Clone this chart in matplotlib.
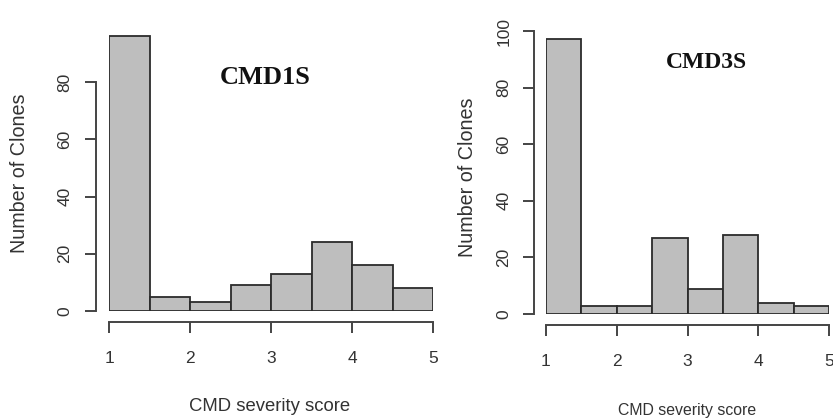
import numpy as np
import matplotlib
matplotlib.use("Agg")
import matplotlib.pyplot as plt

# histogram bins (CMD severity score) and counts
bin_edges = [1.0, 1.5, 2.0, 2.5, 3.0, 3.5, 4.0, 4.5, 5.0]
cmd1s_counts = [96, 5, 3, 9, 13, 24, 16, 8]
cmd3s_counts = [97, 3, 3, 27, 9, 28, 4, 3]
x_ticks = [1, 2, 3, 4, 5]
cmd1s_yticks = [0, 20, 40, 60, 80]
cmd3s_yticks = [0, 20, 40, 60, 80, 100]

fill = "#bebebe"
edge = "#2b2b2b"
ink = "#333333"

plt.rcParams["font.family"] = ["Liberation Sans", "DejaVu Sans"]

fig = plt.figure(figsize=(8.33, 4.19), dpi=100)

W, H = 833.0, 419.0


def r_hist(ax, counts, yticks, title, tsize, tpos, xlab_pos, ylab_pos,
           xlab_size, yoff, xoff, ypad):
    left = np.array(bin_edges[:-1])
    widths = np.diff(bin_edges)
    ax.bar(left, counts, width=widths, align="edge", color=fill,
           edgecolor=edge, linewidth=1.3)
    ax.set_xlim(1, 5)
    ax.set_ylim(0, 100)
    for s in ["top", "right"]:
        ax.spines[s].set_visible(False)
    ax.spines["left"].set_position(("outward", yoff))
    ax.spines["bottom"].set_position(("outward", xoff))
    ax.spines["left"].set_bounds(yticks[0], yticks[-1])
    ax.spines["bottom"].set_bounds(x_ticks[0], x_ticks[-1])
    for s in ["left", "bottom"]:
        ax.spines[s].set_color("#444444")
        ax.spines[s].set_linewidth(1.4)
    ax.set_xticks(x_ticks)
    ax.set_yticks(yticks)
    ax.tick_params(axis="both", colors="#444444", width=1.4, length=8,
                   labelcolor=ink, labelsize=12.5)
    ax.tick_params(axis="x", pad=13)
    ax.tick_params(axis="y", pad=ypad)
    for lab in ax.get_yticklabels():
        lab.set_rotation(90)
        lab.set_va("center")
    fig.text(tpos[0] / W, 1 - tpos[1] / H, title, family="Liberation Serif",
             fontweight="bold", fontsize=tsize, color="#111111",
             ha="center", va="center")
    fig.text(xlab_pos[0] / W, 1 - xlab_pos[1] / H, "CMD severity score",
             fontsize=xlab_size, color=ink, ha="center", va="center")
    fig.text(ylab_pos[0] / W, 1 - ylab_pos[1] / H, "Number of Clones",
             fontsize=14.2, color=ink, ha="center", va="center", rotation=90)


# left panel: x=1 at 109px, x=5 at 433px, y=0 at 311px, y=100 at 25px
ax1 = fig.add_axes([109 / W, (H - 311) / H, 324 / W, 286 / H])
r_hist(ax1, cmd1s_counts, cmd1s_yticks, "CMD1S", 19, (265, 78), (270, 406),
       (20, 173), 13.3, 9.5, 8, 9)

# right panel: x=1 at 546px, x=5 at 829px, y=0 at 314px, y=100 at 31px
ax2 = fig.add_axes([546 / W, (H - 314) / H, 283 / W, 283 / H])
r_hist(ax2, cmd3s_counts, cmd3s_yticks, "CMD3S", 17, (706, 62), (687, 410),
       (467, 177), 11.4, 9, 8, 8)

fig.savefig("out.png", dpi=100)
